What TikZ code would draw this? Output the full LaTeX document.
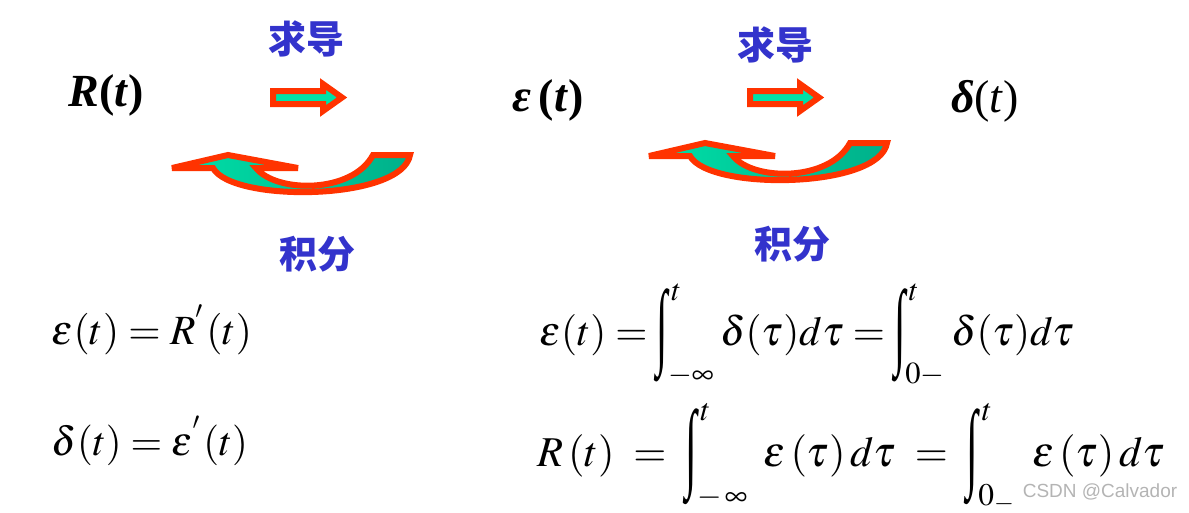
\documentclass[tikz,border=0pt]{standalone}
\usepackage{mathptmx}
\usepackage[no-math]{fontspec}
\setmainfont{Liberation Serif}
\newfontfamily\cjk{Noto Sans CJK SC}
\newfontfamily\wmfont{Liberation Sans}
\definecolor{arrred}{HTML}{FF3300}
\definecolor{arrgreen}{HTML}{00E0A8}
\definecolor{arrgreendark}{HTML}{00B08A}
\definecolor{cjkblue}{HTML}{3333CC}
\definecolor{wmgray}{HTML}{B4B4B4}
\newcommand{\tint}{\mathop{\vcenter{\hbox{\scalebox{1}[2.3]{\rmfamily ∫}}}}\nolimits}
\tikzset{
  label cn/.style={text=cjkblue, font=\cjk\bfseries\fontsize{38}{40}\selectfont, inner sep=0pt},
  bigsym/.style={font=\fontsize{46}{50}\selectfont, inner sep=0pt},
  formula/.style={inner sep=0pt},
  straightarrow/.style={draw=arrred, fill=arrgreen, line width=6pt, line join=miter},
  curvedarrow/.style={draw=arrred, left color=arrgreen, right color=arrgreendark, line width=6pt, line join=miter, miter limit=4},
}
\begin{document}
\begin{tikzpicture}[x=1pt,y=-1pt]
\useasboundingbox (0,0) rectangle (1189,512);

% top labels
\node[bigsym] (R) at (106,95) {\textbf{\textit{R}}\textbf{(}\textbf{\textit{t}}\textbf{)}};
\node[bigsym] (E) at (548,100) {\textbf{\textit{ε}}\,\textbf{(}\textbf{\textit{t}}\textbf{)}};
\node[bigsym] (D) at (985,101) {\textbf{\textit{δ}}(\textit{t})};

\node[label cn] (d1) at (306,39) {求导};
\node[label cn] (d2) at (775,45) {求导};
\node[label cn] (i1) at (317,254) {积分};
\node[label cn] (i2) at (792,244) {积分};

% straight arrows
\foreach \dx/\nm in {0/sa1,477/sa2}{
  \begin{scope}[xshift=\dx]
  \path[straightarrow] (273,91) -- (323,91) -- (323,84) -- (342,97.5) -- (323,111) -- (323,104) -- (273,104) -- cycle;
  \end{scope}
}

% curved arrows
\foreach \dx/\dy in {0/0,477/-12}{
  \begin{scope}[xshift=\dx,yshift=-\dy]
  \path[curvedarrow] (172,168) -- (228,155) -- (298,168) -- (256,168)
     .. controls (276,193) and (352,194) .. (373,155) -- (410,155)
     .. controls (402,201) and (232,203) .. (213,168) -- cycle;
  \end{scope}
}

% formulas
\node[formula] (f1) at (152,330) {\resizebox{200pt}{!}{$\varepsilon(t)=R^{'}(t)$}};
\node[formula] (f2) at (150,441) {\resizebox{196pt}{!}{$\delta(t)=\varepsilon^{'}(t)$}};
\node[formula] (f3) at (807,335) {\resizebox{535pt}{!}{$\displaystyle\varepsilon(t)=\tint_{-\infty}^{\,t}\delta(\tau)d\tau=\tint_{0-}^{\,t}\delta(\tau)d\tau$}};
\node[formula] (f4) at (851,458) {\resizebox{627pt}{!}{$\displaystyle R\,(t)\;=\;\tint_{-\,\infty}^{\,t}\;\varepsilon\,(\tau)\,d\tau\;=\;\tint_{0_{-}}^{\,t}\;\varepsilon\,(\tau)\,d\tau$}};

\node[text=wmgray, font=\wmfont\fontsize{19}{21}\selectfont, inner sep=0pt] (wm) at (1100,492) {CSDN @Calvador};
\end{tikzpicture}
\end{document}
